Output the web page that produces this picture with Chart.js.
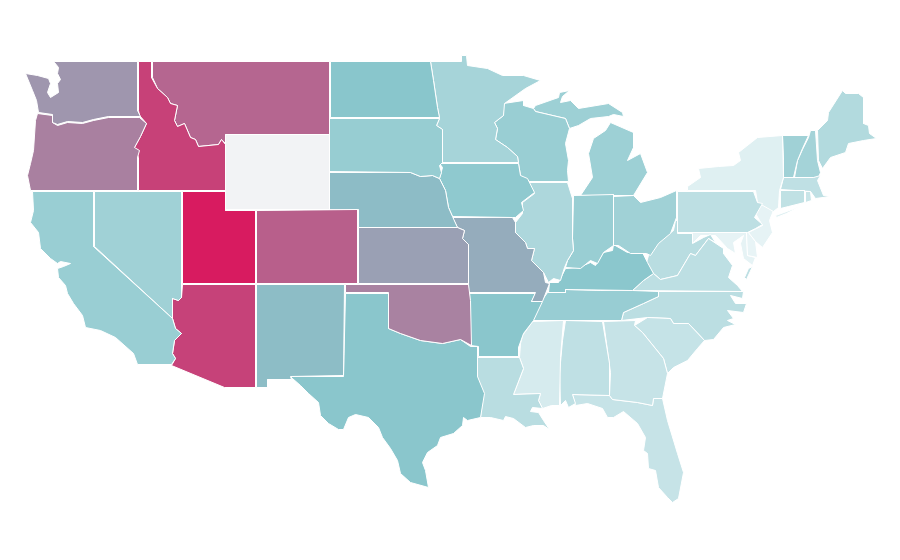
<!DOCTYPE html>
<html>
<head>
<meta charset="utf-8">
<title>US states</title>
<script src="https://cdn.jsdelivr.net/npm/chart.js@4/dist/chart.umd.js"></script>
<style>
  html, body { margin: 0; background: #fff; }
  canvas { display: block; }
</style>
</head>
<body>
<canvas id="map" width="900" height="560"></canvas>
<script>
// state values (null = no data)
const stateNames = ['WA','OR','CA','NV','ID','MT','WY','UT','AZ','CO','NM','ND','SD','NE','KS','OK','TX','MN','IA','MO','AR','LA','WI','IL','IN','MI','OH','KY','TN','MS','AL','GA','FL','SC','NC','VA','WV','PA','NY','NJ','DE','MD','CT','RI','MA','VT','NH','ME'];
const stateValues = [64,70.5,41.6,37.9,89,78,null,100,88.5,80,52.6,50,42.6,52.8,61,70,49.5,34.7,46.8,57.6,49.5,24.7,41.6,31,41.6,39.5,37.9,49,42,9.5,21.6,18,18,18.4,23.7,22.6,24.7,22.6,4.7,1,0,1,21,16.8,21.6,37.9,35.8,28.4];

// outlines as flat x,y lists in map units
const WA = [54,61,137,61,137,110,140,116,108,116,93,119,82,122,67,121,57,124,52,122,52,114,38,112,36,100,32,90,25,73,37,75,48,78,50,83,47,92,50,97,58,92,57,83,60,79,57,73,58,67,54,62];
const OR = [37,113,52,115,52,122,57,125,67,122,82,123,93,120,108,117,139,117,146,123,140,136,134,147,139,150,137,157,137,190,30,190,27,175,30,163,33,150,35,120];
const CA = [32,191,93,191,93,246,172,318,175,328,181,333,174,340,172,353,175,358,171,364,137,364,133,353,115,337,100,330,85,327,82,315,73,303,67,293,65,285,58,277,57,268,63,266,70,263,60,261,57,263,50,258,40,248,38,232,30,222,33,210];
const NV = [94,191,181,191,181,297,178,300,172,298,172,318,94,246];
const ID = [138,61,151,61,151,77,157,88,167,97,170,103,177,105,174,120,177,126,184,123,190,137,195,139,198,146,218,144,221,139,225,144,225,190,138,190,138,157,134,147,140,136,146,123,139,115,138,110];
const MT = [152,61,329,61,329,134,225,134,225,143,221,139,218,144,198,146,195,139,190,137,184,123,177,126,174,120,177,105,170,103,167,97,157,88,152,77];
const WY = [225,134,329,134,329,209,225,209];
const UT = [182,191,225,191,225,210,255,210,255,283,182,283];
const AZ = [182,284,255,284,255,387,224,387,171,365,175,358,172,353,174,340,181,333,175,328,172,318,172,298,178,300,181,297];
const CO = [256,210,357,209,357,283,256,283];
const NM = [256,284,344,284,343,375,290,376,291,379,267,379,267,387,256,387];
const ND = [330,61,430,61,433,80,437,107,439,117,330,117];
const SD = [329,118,439,118,436,125,442,129,442,162,439,165,441,172,439,178,432,175,420,176,410,172,329,171];
const NE = [329,172,410,172,420,176,432,175,439,178,445,190,448,207,452,216,457,227,358,227,358,209,329,209];
const KS = [358,227,457,227,464,230,462,238,468,244,468,283,358,283];
const OK = [345,284,468,284,470,300,471,345,460,339,442,343,420,340,400,333,388,328,388,292,345,292];
const TX = [345,293,388,293,388,328,400,333,420,340,442,343,460,339,470,346,477,346,477,376,484,393,480,417,467,420,463,417,462,425,453,433,440,437,437,445,427,452,422,462,425,470,428,487,410,482,400,473,397,460,390,448,382,437,378,427,368,417,355,414,348,417,343,429,338,429,328,423,320,415,318,402,308,393,300,385,292,378,290,376,343,376];
const MN = [430,61,461,61,461,55,466,55,467,65,487,68,502,75,523,75,540,80,525,88,504,103,503,115,494,122,497,128,495,139,507,147,517,156,518,162,442,162,442,129,436,125,439,118,437,107,433,80];
const IA = [439,163,518,163,520,175,527,178,534,192,521,202,523,210,515,217,512,217,452,216,448,207,445,190,439,178,442,167];
const MO = [452,217,512,217,515,222,515,232,525,242,527,248,534,248,531,260,543,272,545,282,549,283,542,301,531,301,535,292,468,292,468,244,462,238,464,230,457,227];
const AR = [469,293,535,293,531,301,542,301,533,320,523,333,518,347,518,356,478,356,478,346,470,345];
const LA = [477,357,519,357,523,368,513,394,540,393,538,400,542,408,532,407,530,411,538,412,543,420,549,429,543,425,533,425,525,427,513,418,505,416,503,420,490,417,480,417,483,393,477,377];
const WI = [503,103,523,100,523,105,533,108,535,111,565,118,569,128,565,143,568,160,567,170,568,181,527,181,520,175,518,163,517,156,507,147,495,139,497,128,494,122,503,115];
const IL = [528,182,567,182,572,198,572,238,573,250,567,260,564,267,560,280,553,278,548,282,543,272,531,260,534,248,527,248,525,242,515,232,515,222,522,213,522,202,534,193];
const IN = [573,195,613,194,613,245,603,252,597,263,590,260,580,268,565,267,567,260,573,250,572,238];
const MI = [580,195,592,177,588,153,593,138,605,130,610,122,633,132,633,147,627,160,640,153,647,172,633,195];
const MI_UP = [533,108,535,105,558,97,559,92,569,90,562,96,560,102,570,100,578,108,608,103,622,112,623,116,613,114,608,116,590,118,578,125,569,128,565,118,535,111];
const OH = [613,196,633,195,640,202,660,197,676,190,676,217,670,233,658,243,650,255,646,253,630,253,618,245,613,245];
const KY = [548,292,549,282,558,282,565,268,578,267,590,262,595,265,603,252,612,250,613,244,627,252,642,252,647,262,653,273,643,280,632,290,565,289,565,292];
const TN = [547,292,565,292,565,289,600,290,632,290,658,291,658,296,643,303,623,312,621,320,532,320,535,313,540,302];
const MS = [532,321,563,320,560,357,559,405,551,405,542,408,538,400,540,393,513,394,523,368,519,357,520,343,522,335];
const AL = [565,320,602,321,609,363,609,395,572,394,575,403,568,407,565,400,560,405,559,373,562,340];
const GA = [603,321,635,320,634,325,642,332,663,358,667,373,662,398,653,398,652,405,637,402,612,399,609,395,610,372];
const FL = [572,394,609,395,612,399,637,402,652,405,653,398,662,398,667,420,677,453,683,472,678,498,672,502,667,497,658,487,655,470,648,468,647,453,643,450,645,437,637,423,623,411,613,417,607,417,602,408,587,403,575,405];
const SC = [634,325,647,317,670,318,673,323,688,323,704,340,697,348,687,360,673,367,667,373,663,358,642,332];
const NC = [658,291,743,291,742,298,730,295,735,303,746,303,743,312,727,310,733,318,727,320,735,324,723,327,713,339,704,340,688,323,673,323,670,318,647,317,621,320,623,312,643,303,658,296];
const VA = [632,290,643,280,653,273,660,279,677,275,690,253,695,255,708,238,723,248,723,253,732,265,728,277,737,285,742,291];
const VA_SHORE = [748,268,752,266,746,279,744,277];
const WV = [675,220,673,230,663,238,653,247,648,255,646,262,653,273,660,279,677,275,690,253,695,255,708,238,715,242,710,234,703,237,692,243,692,233,677,233,677,220];
const PA = [677,191,753,191,757,202,762,203,754,217,762,224,755,228,747,232,677,232];
const NY = [687,186,700,177,698,168,718,166,733,165,740,160,738,152,757,137,782,135,783,177,779,190,778,207,773,211,757,202,755,190,687,190];
const NY_LONG = [775,215,800,206,786,213,776,217];
const NJ = [762,203,773,210,769,220,772,232,762,247,755,241,748,232,762,225,755,213];
const DE = [746,232,748,232,755,241,757,257,747,255];
const MD = [692,232,746,232,747,255,755,257,752,265,743,258,740,243,743,235,733,242,735,253,727,248,715,235,708,235,700,235,692,243];
const CT = [780,190,804,190,804,202,788,206,780,208];
const RI = [805,191,810,191,811,200,805,202];
const MA = [783,177,813,177,820,175,817,180,823,195,830,196,815,198,810,191,780,189];
const VT = [782,135,808,135,802,148,797,160,793,177,783,177,783,160];
const NH = [810,130,815,130,817,160,820,172,818,177,794,177,797,160,802,149,808,137];
const ME = [817,130,827,120,828,112,842,90,845,93,858,93,863,97,863,123,868,125,869,133,876,138,863,140,848,143,845,152,830,157,822,168,818,160];

const outlines = { WA, OR, CA, NV, ID, MT, WY, UT, AZ, CO, NM, ND, SD, NE, KS, OK, TX, MN, IA, MO, AR, LA, WI, IL, IN, MI, OH, KY, TN, MS, AL, GA, FL, SC, NC, VA, WV, PA, NY, NJ, DE, MD, CT, RI, MA, VT, NH, ME };
const extraParts = { MI: [MI_UP], VA: [VA_SHORE], NY: [NY_LONG] };

const lowColor = [232, 244, 246];
const midColor = [137, 198, 204];
const highColor = [216, 27, 96];

function valueColor(v) {
  if (v === null) return '#f2f3f5';
  const from = v < 50 ? lowColor : midColor;
  const to = v < 50 ? midColor : highColor;
  const t = v < 50 ? v / 50 : (v - 50) / 50;
  const c = from.map((f, i) => Math.round(f + (to[i] - f) * t));
  return `rgb(${c[0]},${c[1]},${c[2]})`;
}

function toPoints(flat) {
  const pts = [];
  for (let i = 0; i < flat.length; i += 2) pts.push({ x: flat[i], y: flat[i + 1] });
  pts.push({ x: flat[0], y: flat[1] });
  return pts;
}

const datasets = [];
stateNames.forEach((name, i) => {
  [outlines[name], ...(extraParts[name] || [])].forEach(part => {
    datasets.push({
      label: name,
      data: toPoints(part),
      showLine: true,
      fill: 'shape',
      tension: 0,
      pointRadius: 0,
      pointHoverRadius: 0,
      backgroundColor: valueColor(stateValues[i]),
      borderColor: '#ffffff',
      borderWidth: 1,
      borderJoinStyle: 'round'
    });
  });
});

new Chart(document.getElementById('map'), {
  type: 'scatter',
  data: { datasets },
  options: {
    responsive: false,
    animation: false,
    devicePixelRatio: 1,
    plugins: { legend: { display: false }, tooltip: { enabled: false } },
    scales: {
      // half unit offset keeps straight borders on whole pixels
      x: { type: 'linear', min: -0.5, max: 899.5, display: false },
      y: { type: 'linear', min: -0.5, max: 559.5, reverse: true, display: false }
    }
  }
});
</script>
</body>
</html>
